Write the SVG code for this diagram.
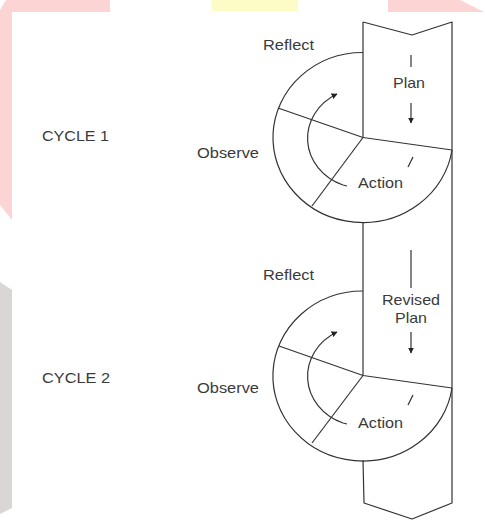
<svg xmlns="http://www.w3.org/2000/svg" width="485" height="524" viewBox="0 0 485 524">
  <style>
    .ln { fill: none; stroke: #333; stroke-width: 1.2; stroke-linejoin: round; }
    .tx { font-family: "Liberation Sans", Arial, sans-serif; font-size: 15px; fill: #3a3a3a; }
  </style>
  <defs>
    <marker id="head" viewBox="0 0 10 10" refX="9" refY="5" markerWidth="6" markerHeight="6" markerUnits="userSpaceOnUse" orient="auto">
      <path d="M0,0 L10,5 L0,10 Z" fill="#222"/>
    </marker>
  </defs>

  <!-- page edge decorations -->
  <g id="edge-bands">
    <rect width="485" height="524" fill="#ffffff"/>
    <path d="M6,0 L110,0 L110,12 L12,12 L12,220 L0,205 L0,10 Z" fill="#fdd4d4"/>
    <rect x="212" y="0" width="86" height="11" fill="#fdfbc6"/>
    <path d="M388,0 L460,0 L484,12 L388,12 Z" fill="#fdd4d4"/>
    <path d="M0,282 L12,290 L12,508 L0,514 Z" fill="#d9d6d4"/>
    <rect x="12" y="12" width="473" height="512" fill="#ffffff"/>
  </g>

  <!-- vertical plan column -->
  <g id="column">
    <path class="ln" d="M363,22 L412,35 L452,22 L452,503 L412,519 L364,503 L363,460"/>
    <path class="ln" d="M363,22 L363,137.5"/>
    <path class="ln" d="M363,222 L363,375.5"/>
  </g>

  <!-- cycle 1 wheel -->
  <g id="cycle1">
    <path class="ln" d="M363,52.5 A90,85 0 1,0 452,150"/>
    <path class="ln" d="M278,108 L363,137.5 L452,150"/>
    <path class="ln" d="M312,206 L363,137.5"/>
    <text class="tx" x="42" y="141" textLength="67" lengthAdjust="spacingAndGlyphs">CYCLE 1</text>
    <text class="tx" x="263" y="50" textLength="51" lengthAdjust="spacingAndGlyphs">Reflect</text>
    <text class="tx" x="393" y="88" textLength="32" lengthAdjust="spacingAndGlyphs">Plan</text>
    <text class="tx" x="197" y="158" textLength="62" lengthAdjust="spacingAndGlyphs">Observe</text>
    <text class="tx" x="358" y="188" textLength="45" lengthAdjust="spacingAndGlyphs">Action</text>
  </g>

  <!-- cycle 2 wheel -->
  <g id="cycle2">
    <path class="ln" d="M363,291 A90,85 0 1,0 452,388"/>
    <path class="ln" d="M279,346 L363,375.5 L452,388"/>
    <path class="ln" d="M312,443 L363,375.5"/>
    <text class="tx" x="42" y="383" textLength="68" lengthAdjust="spacingAndGlyphs">CYCLE 2</text>
    <text class="tx" x="263" y="280" textLength="51" lengthAdjust="spacingAndGlyphs">Reflect</text>
    <text class="tx" x="382" y="305" textLength="58" lengthAdjust="spacingAndGlyphs">Revised</text>
    <text class="tx" x="395" y="323" textLength="32" lengthAdjust="spacingAndGlyphs">Plan</text>
    <text class="tx" x="197" y="393" textLength="62" lengthAdjust="spacingAndGlyphs">Observe</text>
    <text class="tx" x="358" y="428" textLength="45" lengthAdjust="spacingAndGlyphs">Action</text>
  </g>

  <!-- flow arrows -->
  <g id="connectors">
    <path class="ln" d="M411,55 L411,67"/>
    <path class="ln" d="M411,103 L411,123" marker-end="url(#head)"/>
    <path class="ln" d="M347,186 L343,185 A55,50 0 0,1 337,94" marker-end="url(#head)"/>
    <path class="ln" d="M413,157 L408,167"/>

    <path class="ln" d="M411,250 L411,288"/>
    <path class="ln" d="M411,332 L411,353" marker-end="url(#head)"/>
    <path class="ln" d="M347,424 L343,423 A55,50 0 0,1 337,332" marker-end="url(#head)"/>
    <path class="ln" d="M413,395 L408,405"/>
  </g>
</svg>
